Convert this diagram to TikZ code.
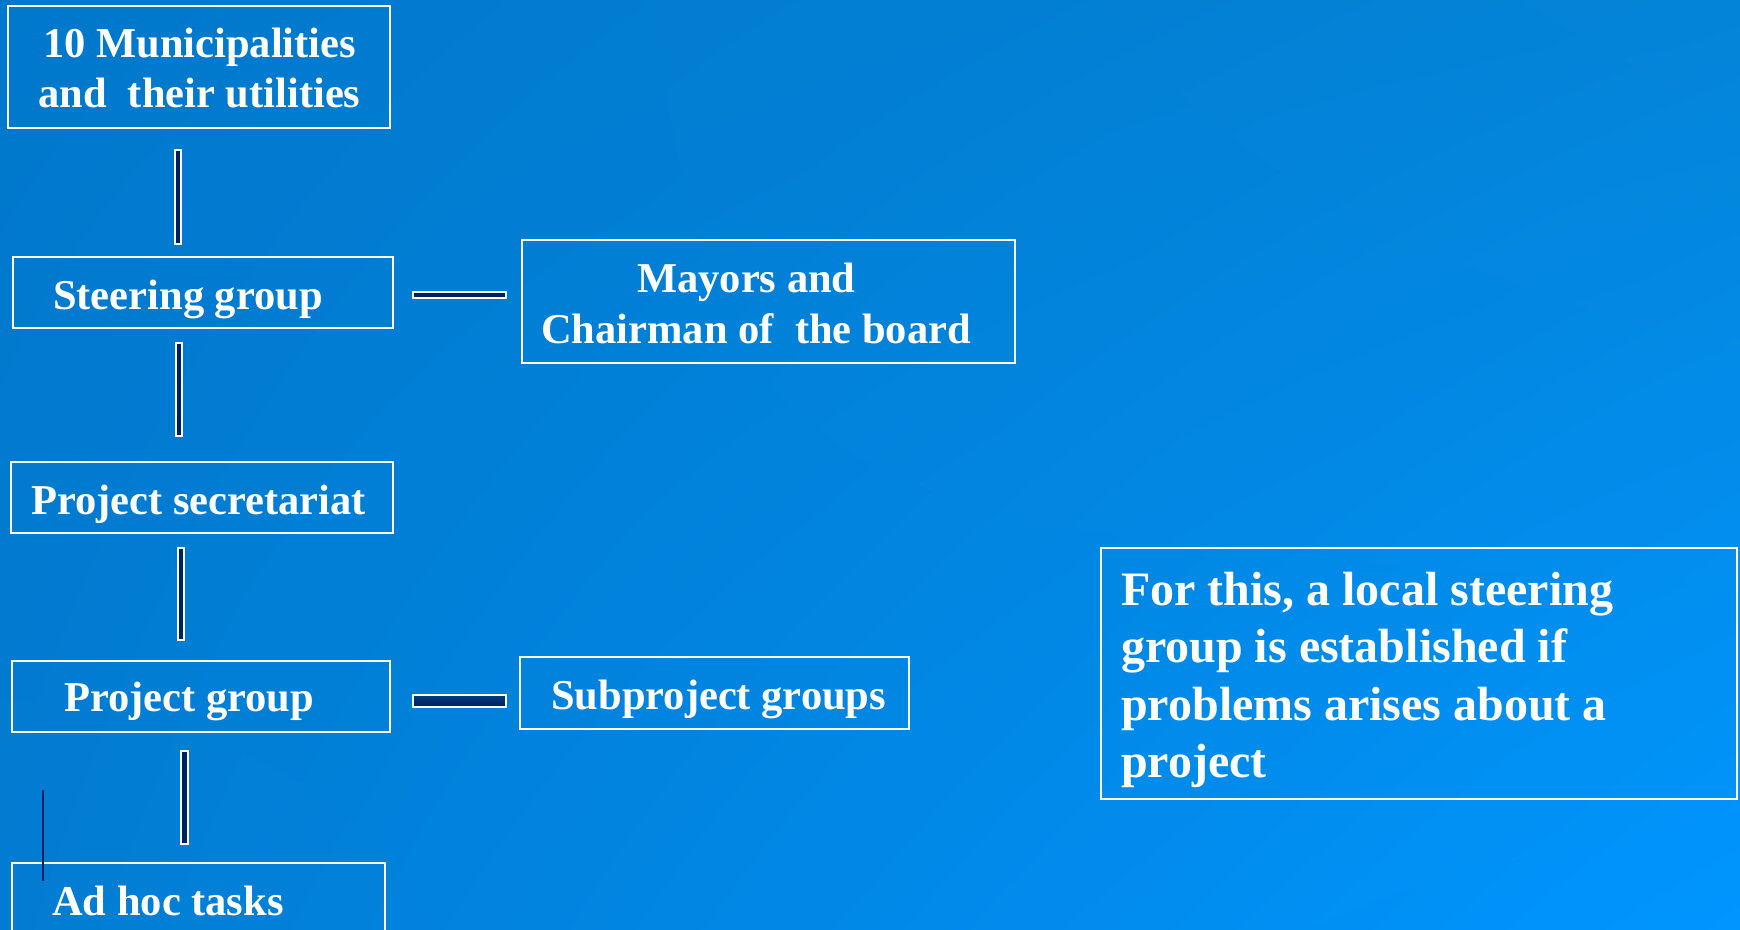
\documentclass[tikz,border=0pt]{standalone}
\usepackage{fontspec}
\usetikzlibrary{shadings}
\setmainfont{Liberation Serif}
\definecolor{bgTL}{RGB}{0,120,204}
\definecolor{bgTR}{RGB}{4,132,216}
\definecolor{bgBL}{RGB}{2,124,210}
\definecolor{bgBR}{RGB}{0,150,255}
\definecolor{navyA}{RGB}{0,32,96}
\definecolor{navyB}{RGB}{0,60,128}
\definecolor{navyC}{RGB}{0,30,90}
\tikzset{
  box/.style={draw=white, line width=1.8pt, rectangle},
  lbl/.style={text=white, font=\fontsize{42.5}{50}\selectfont\bfseries, inner sep=0pt, anchor=base west},
  bigl/.style={text=white, font=\fontsize{48}{58}\selectfont\bfseries, inner sep=0pt, anchor=base west},
  vbar/.style={draw=white, line width=1.5pt, fill=navyA},
  hbarthin/.style={draw=white, line width=1.5pt, fill=navyA},
  hbarthick/.style={draw=white, line width=1.5pt, top color=navyB, bottom color=navyC},
  thin/.style={draw=navyA, line width=2pt}
}
\begin{document}
\begin{tikzpicture}[x=1pt,y=-1pt]
\useasboundingbox (0,0) rectangle (1740,929);
\shade[upper left=bgTL, upper right=bgTR, lower left=bgBL, lower right=bgBR] (0,0) rectangle (1740,929);

% boxes
\node[box, minimum width=382pt, minimum height=122pt] (mun) at (199,67) {};
\node[box, minimum width=380pt, minimum height=71pt] (steer) at (203,292.5) {};
\node[box, minimum width=493pt, minimum height=123pt] (may) at (768.5,301.5) {};
\node[box, minimum width=382pt, minimum height=71pt] (sec) at (202,497.5) {};
\node[box, minimum width=378pt, minimum height=71pt] (pg) at (201,696.5) {};
\node[box, minimum width=389pt, minimum height=72pt] (sub) at (714.5,693) {};
\node[box, minimum width=373pt, minimum height=100pt] (adhoc) at (198.5,913) {};
\node[box, minimum width=636pt, minimum height=251pt] (note) at (1419,673.5) {};

% texts
\node[lbl] (t1a) at (43,57) {10 Municipalities};
\node[lbl] (t1b) at (38,107) {and\ \ their utilities};
\node[lbl] (t2) at (53,309) {Steering group};
\node[lbl] (t3a) at (637,292) {Mayors and};
\node[lbl] (t3b) at (541,343) {Chairman of\ \ the board};
\node[lbl] (t4) at (31,514) {Project secretariat};
\node[lbl] (t5) at (64,711) {Project group};
\node[lbl] (t6) at (551,709) {Subproject groups};
\node[lbl] (t7) at (52,915) {Ad hoc tasks};
\node[bigl] (n1) at (1121,605) {For this, a local steering};
\node[bigl] (n2) at (1121,662.5) {group is established if};
\node[bigl] (n3) at (1121,720) {problems arises about a};
\node[bigl] (n4) at (1121,777.5) {project};

% vertical connectors
\draw[vbar] ([xshift=168pt,yshift=-21pt]mun.south west) rectangle ([xshift=169pt,yshift=12pt]steer.north west);
\draw[vbar] ([xshift=164pt,yshift=-14pt]steer.south west) rectangle ([xshift=172pt,yshift=25pt]sec.north west);
\draw[vbar] ([xshift=168pt,yshift=-14pt]sec.south west) rectangle ([xshift=173pt,yshift=20pt]pg.north west);
\draw[vbar] ([xshift=170pt,yshift=-18pt]pg.south west) rectangle ([xshift=177pt,yshift=18pt]adhoc.north west);

% horizontal connectors
\draw[hbarthin] ([xshift=19pt,yshift=0.5pt]steer.east) rectangle ([xshift=-15pt,yshift=3.5pt]may.west);
\draw[hbarthick] ([xshift=22pt,yshift=1.5pt]pg.east) rectangle ([xshift=-13pt,yshift=-14pt]sub.west);

% thin dark line
\coordinate (ta) at (43,790);
\coordinate (tb) at (43,881);
\draw[thin] (ta) -- (tb);
\end{tikzpicture}
\end{document}
